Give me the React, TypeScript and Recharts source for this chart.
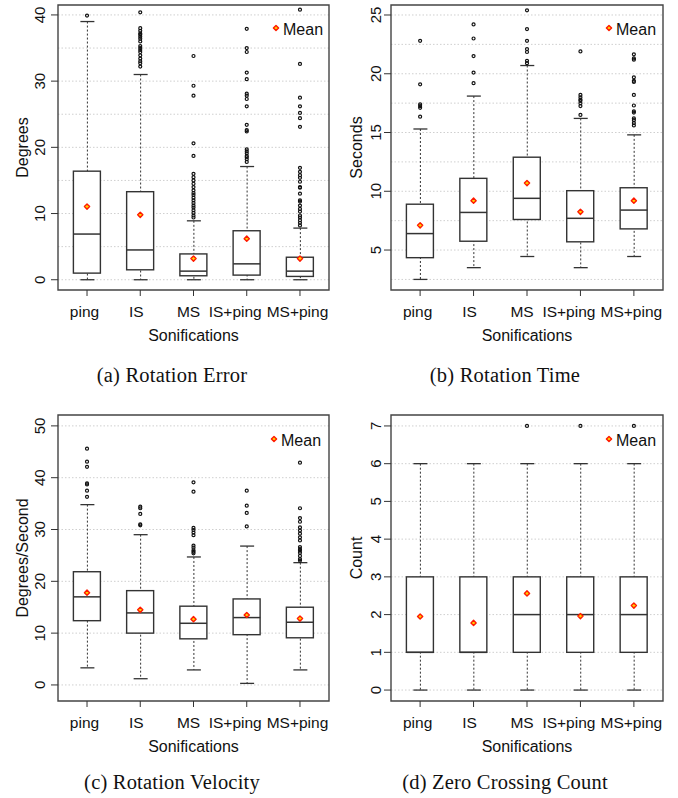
import React from 'react';
import { ComposedChart, Bar, Scatter, XAxis, YAxis, CartesianGrid, ReferenceArea, Legend } from 'recharts';

const groups = ['ping', 'IS', 'MS', 'IS+ping', 'MS+ping'];
// the source figure sets its group labels a little left of each box
const labelShift = [-2.5, -4, -5, -11.5, -2.5];

// (a) Rotation Error, degrees
const errLo = [0, 0, 0, 0, 0];
const errQ1 = [1.0, 1.5, 0.6, 0.7, 0.5];
const errMed = [6.9, 4.5, 1.3, 2.4, 1.3];
const errQ3 = [16.4, 13.3, 3.9, 7.4, 3.4];
const errHi = [39.0, 31.0, 8.9, 17.1, 7.8];
const errMean = [11.05, 9.8, 3.2, 6.2, 3.2];
const errOut = [
  [39.9],
  [40.4, 38.0, 37.6, 37.2, 37.0, 36.7, 36.4, 36.0, 35.3, 35.0, 34.7, 34.4, 33.9, 33.4, 33.0, 32.7, 32.2],
  [33.8, 29.3, 27.8, 20.6, 18.7, 16.0, 15.5, 15.0, 14.5, 14.0, 13.5, 13.1, 12.8, 12.4, 12.0, 11.6, 11.2, 10.9, 10.5, 10.1, 9.7, 9.4],
  [37.9, 35.0, 34.4, 31.3, 30.3, 28.1, 27.8, 27.3, 26.2, 23.4, 22.6, 22.4, 19.7, 19.4, 19.1, 18.7, 18.5, 18.2, 17.8],
  [40.8, 32.6, 27.5, 26.2, 25.2, 24.4, 23.1, 16.9, 16.3, 15.8, 15.4, 14.8, 14.0, 13.9, 13.0, 12.0, 11.8, 11.2, 10.7, 10.3, 9.7, 9.4, 9.0, 8.6, 8.2],
];

// (b) Rotation Time, seconds
const timeLo = [2.5, 3.5, 4.45, 3.5, 4.45];
const timeQ1 = [4.35, 5.75, 7.6, 5.7, 6.8];
const timeMed = [6.4, 8.2, 9.4, 7.7, 8.4];
const timeQ3 = [8.9, 11.1, 12.9, 10.05, 10.3];
const timeHi = [15.3, 18.1, 20.7, 16.2, 14.8];
const timeMean = [7.1, 9.2, 10.7, 8.25, 9.2];
const timeOut = [
  [22.8, 19.1, 17.4, 17.25, 17.1, 16.35],
  [24.2, 23.0, 21.5, 20.1, 19.2],
  [25.4, 23.8, 22.8, 22.1, 21.85, 21.1, 20.9],
  [21.9, 18.2, 18.0, 17.8, 17.7, 17.5, 17.25, 16.5],
  [21.65, 21.3, 21.2, 19.7, 19.4, 19.3, 18.2, 17.3, 16.8, 16.7, 16.2, 16.05, 15.8, 15.6],
];

// (c) Rotation Velocity, degrees/second
const velLo = [3.3, 1.2, 2.9, 0.3, 2.9];
const velQ1 = [12.4, 10.0, 8.9, 9.7, 9.1];
const velMed = [17.0, 13.9, 11.9, 13.0, 12.1];
const velQ3 = [21.85, 18.2, 15.2, 16.6, 15.0];
const velHi = [34.8, 29.0, 24.7, 26.8, 23.6];
const velMean = [17.8, 14.5, 12.7, 13.5, 12.8];
const velOut = [
  [45.6, 43.1, 42.1, 38.9, 38.7, 37.5, 36.3],
  [34.4, 34.1, 33.0, 31.0, 30.8],
  [39.1, 37.3, 30.3, 29.9, 29.4, 28.9, 26.9, 26.5, 26.0, 25.7, 25.4],
  [37.5, 34.6, 33.2, 30.6],
  [42.9, 34.1, 32.2, 31.5, 30.4, 29.8, 29.2, 28.5, 27.9, 26.6, 26.2, 25.9, 25.5, 24.9, 24.3, 24.0],
];

// (d) Zero Crossing Count
const zcLo = [0, 0, 0, 0, 0];
const zcQ1 = [1, 1, 1, 1, 1];
const zcMed = [1, 1, 2, 2, 2];
const zcQ3 = [3, 3, 3, 3, 3];
const zcHi = [6, 6, 6, 6, 6];
const zcMean = [1.95, 1.78, 2.56, 1.96, 2.24];
const zcOut = [[], [], [7], [7], [7]];

const xDomain = [0.455, 5.545];
const xTicks = [1, 2, 3, 4, 5];
const sans = '"Liberation Sans", Arial, sans-serif';
const serif = '"Liberation Serif", "Times New Roman", serif';
const ink = '#333';
const BOX_W = 27;
const CAP_W = 14;

const buildRows = (lo, q1, med, q3, hi, mean) =>
  groups.map((name, i) => ({
    x: i + 1,
    name,
    whisker: [lo[i], hi[i]],
    box: [q1[i], q3[i]],
    med: med[i],
    mean: mean[i],
  }));

const buildOutliers = (out) => out.flatMap((vals, i) => vals.map((v) => ({ x: i + 1, v })));

const WhiskerShape = (props) => {
  const { x, y, width, height } = props;
  const cx = x + width / 2;
  return (
    <g>
      <line x1={cx} x2={cx} y1={y} y2={y + height} stroke={ink} strokeWidth={1} strokeDasharray="2 2" />
      <line x1={x} x2={x + width} y1={y} y2={y} stroke={ink} strokeWidth={1.3} />
      <line x1={x} x2={x + width} y1={y + height} y2={y + height} stroke={ink} strokeWidth={1.3} />
    </g>
  );
};

const BoxShape = (props) => {
  const { x, y, width, height } = props;
  return <rect x={x} y={y} width={width} height={height} fill="#fff" stroke={ink} strokeWidth={1.4} />;
};

const MedianShape = ({ cx, cy }) => (
  <line x1={cx - BOX_W / 2} x2={cx + BOX_W / 2} y1={cy} y2={cy} stroke={ink} strokeWidth={1.5} />
);

const MeanMark = ({ cx, cy }) => (
  <path
    d={`M${cx},${cy - 2.6} L${cx + 2.6},${cy} L${cx},${cy + 2.6} L${cx - 2.6},${cy} Z`}
    fill="#ffd200"
    stroke="#ff1a00"
    strokeWidth={1.4}
    strokeLinejoin="round"
  />
);

const OutlierShape = ({ cx, cy }) => (
  <circle cx={cx} cy={cy} r={1.5} fill="none" stroke="#111" strokeWidth={1.2} />
);

const MeanKey = () => (
  <svg width={70} height={22}>
    <MeanMark cx={6} cy={10} />
    <text x={13} y={17} fontSize={16} fontFamily={sans} fill="#111">
      Mean
    </text>
  </svg>
);

const XTick = ({ x, y, payload }) => (
  <text x={x + labelShift[payload.value - 1]} y={y} textAnchor="middle" fontSize={15.5} fontFamily={sans} fill="#111">
    {groups[payload.value - 1]}
  </text>
);

const YTick = ({ x, y, payload }) => (
  <text x={x} y={y} transform={`rotate(-90 ${x} ${y})`} textAnchor="middle" fontSize={15} fontFamily={sans} fill="#111">
    {payload.value}
  </text>
);

function BoxPanel({ left, top, height, yWidth, rightMargin, tickGap, titleX, yTitle, domain, ticks, grid, rows, outliers, legendX, legendY, caption, captionX, captionTop }) {
  return (
    <>
      <div style={{ position: 'absolute', left, top }}>
        <ComposedChart width={339} height={height} data={rows} margin={{ top: 5, right: rightMargin, bottom: 0, left: 0 }}>
          <CartesianGrid vertical={false} horizontalValues={grid} stroke="#cfcfcf" strokeDasharray="1.5 2" />
          <XAxis xAxisId="w" dataKey="x" type="number" domain={xDomain} allowDataOverflow hide />
          <XAxis
            dataKey="x"
            type="number"
            domain={xDomain}
            allowDataOverflow
            ticks={xTicks}
            interval={0}
            height={55}
            axisLine={false}
            tickSize={6}
            tickLine={{ stroke: ink }}
            tickMargin={21}
            tick={<XTick />}
            label={{
              content: ({ viewBox }) => (
                <text x={viewBox.x + viewBox.width / 2} y={viewBox.y + 51} textAnchor="middle" fontSize={16} fontFamily={sans} fill="#111">
                  Sonifications
                </text>
              ),
            }}
          />
          <YAxis
            type="number"
            domain={domain}
            allowDataOverflow
            ticks={ticks}
            interval={0}
            width={yWidth}
            axisLine={false}
            tickSize={7}
            tickLine={{ stroke: ink }}
            tickMargin={tickGap}
            tick={<YTick />}
            label={{
              content: ({ viewBox }) => {
                const cy = viewBox.y + viewBox.height / 2;
                return (
                  <text x={titleX} y={cy} transform={`rotate(-90 ${titleX} ${cy})`} textAnchor="middle" dominantBaseline="central" fontSize={16} fontFamily={sans} fill="#111">
                    {yTitle}
                  </text>
                );
              },
            }}
          />
          <ReferenceArea x1={xDomain[0]} x2={xDomain[1]} y1={domain[0]} y2={domain[1]} fill="none" stroke="#444" strokeWidth={1.4} ifOverflow="visible" />
          <Bar xAxisId="w" dataKey="whisker" barSize={CAP_W} shape={WhiskerShape} isAnimationActive={false} legendType="none" />
          <Bar dataKey="box" barSize={BOX_W} shape={BoxShape} isAnimationActive={false} legendType="none" />
          <Scatter dataKey="med" shape={MedianShape} isAnimationActive={false} legendType="none" />
          <Scatter data={outliers} dataKey="v" shape={OutlierShape} isAnimationActive={false} legendType="none" />
          <Scatter dataKey="mean" name="Mean" shape={MeanMark} isAnimationActive={false} />
          <Legend
            layout="vertical"
            verticalAlign="middle"
            align="center"
            content={() => <MeanKey />}
            wrapperStyle={{ left: legendX, top: legendY, width: 70, height: 22 }}
          />
        </ComposedChart>
      </div>
      <div
        style={{
          position: 'absolute',
          left: captionX - 170,
          width: 340,
          top: captionTop,
          textAlign: 'center',
          fontFamily: serif,
          fontSize: 20.5,
          lineHeight: '24px',
          letterSpacing: 0.2,
          color: '#111',
        }}
      >
        {caption}
      </div>
    </>
  );
}

export default function App() {
  return (
    <div style={{ position: 'absolute', left: 0, top: 0, width: 678, height: 798, background: '#fff' }}>
      <BoxPanel
        left={0}
        top={0}
        height={345}
        yWidth={58}
        rightMargin={10}
        tickGap={6}
        titleX={22}
        yTitle="Degrees"
        domain={[-1.55, 41.5]}
        ticks={[0, 10, 20, 30, 40]}
        grid={[0, 5, 10, 15, 20, 25, 30, 35, 40]}
        rows={buildRows(errLo, errQ1, errMed, errQ3, errHi, errMean)}
        outliers={buildOutliers(errOut)}
        legendX={270}
        legendY={18}
        caption="(a) Rotation Error"
        captionX={172}
        captionTop={363}
      />
      <BoxPanel
        left={339}
        top={0}
        height={345}
        yWidth={52}
        rightMargin={15}
        tickGap={3}
        titleX={17}
        yTitle="Seconds"
        domain={[1.6, 25.85]}
        ticks={[5, 10, 15, 20, 25]}
        grid={[2.5, 5, 7.5, 10, 12.5, 15, 17.5, 20, 22.5, 25]}
        rows={buildRows(timeLo, timeQ1, timeMed, timeQ3, timeHi, timeMean)}
        outliers={buildOutliers(timeOut)}
        legendX={264}
        legendY={18}
        caption="(b) Rotation Time"
        captionX={505}
        captionTop={363}
      />
      <BoxPanel
        left={0}
        top={410}
        height={346}
        yWidth={58}
        rightMargin={10}
        tickGap={6}
        titleX={22}
        yTitle="Degrees/Second"
        domain={[-3.1, 52.1]}
        ticks={[0, 10, 20, 30, 40, 50]}
        grid={[0, 10, 20, 30, 40, 50]}
        rows={buildRows(velLo, velQ1, velMed, velQ3, velHi, velMean)}
        outliers={buildOutliers(velOut)}
        legendX={268}
        legendY={19}
        caption="(c) Rotation Velocity"
        captionX={172}
        captionTop={770}
      />
      <BoxPanel
        left={339}
        top={410}
        height={346}
        yWidth={52}
        rightMargin={15}
        tickGap={3}
        titleX={17}
        yTitle="Count"
        domain={[-0.29, 7.29]}
        ticks={[0, 1, 2, 3, 4, 5, 6, 7]}
        grid={[0, 1, 2, 3, 4, 5, 6, 7]}
        rows={buildRows(zcLo, zcQ1, zcMed, zcQ3, zcHi, zcMean)}
        outliers={buildOutliers(zcOut)}
        legendX={264}
        legendY={19}
        caption="(d) Zero Crossing Count"
        captionX={505}
        captionTop={770}
      />
    </div>
  );
}
